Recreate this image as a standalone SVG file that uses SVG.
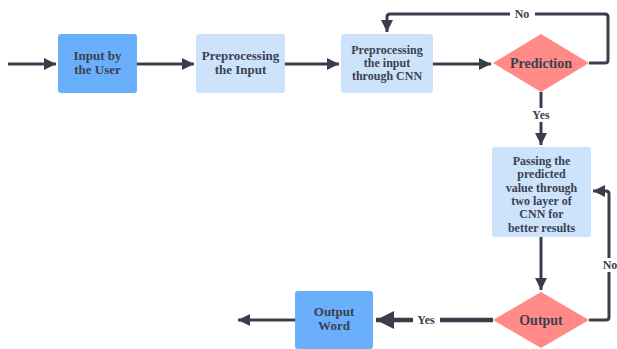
<svg xmlns="http://www.w3.org/2000/svg" width="617" height="349" viewBox="0 0 617 349">
<defs>
<marker id="ah" viewBox="0 0 10 10" refX="10" refY="5" markerWidth="4" markerHeight="4" markerUnits="strokeWidth" orient="auto">
<path d="M0,0 L10,5 L0,10 z" fill="#383e4b"/>
</marker>
<style>
.dark{fill:#6aaffc}
.light{fill:#cde3fc}
.dia{fill:#ff8a87}
.t{font-family:"Liberation Serif","Times New Roman",serif;font-weight:bold;font-size:13px;fill:#3b4150;text-anchor:middle}
.s{font-size:12px}
.c{fill:none;stroke:#383e4b;stroke-width:3;stroke-linejoin:round}
.lbl{font-family:"Liberation Serif","Times New Roman",serif;font-weight:bold;font-size:12px;fill:#3b4150;text-anchor:middle}
</style>
</defs>
<rect width="617" height="349" fill="#ffffff"/>
<g id="connectors">
<path class="c" d="M8,64 H56" marker-end="url(#ah)"/>
<path class="c" d="M137,64 H194" marker-end="url(#ah)"/>
<path class="c" d="M285,64 H339" marker-end="url(#ah)"/>
<path class="c" d="M433,64 H491" marker-end="url(#ah)"/>
<path class="c" d="M589,63 H605 Q608,63 608,60 V17 Q608,14 605,14 H390 Q387,14 387,17 V32" marker-end="url(#ah)"/>
<path class="c" d="M541,92 V145" marker-end="url(#ah)"/>
<path class="c" d="M541,237 V290" marker-end="url(#ah)"/>
<path class="c" d="M589,320 H606 Q609,320 609,317 V194 Q609,191 606,191 H593" marker-end="url(#ah)"/>
<path class="c" d="M493,320 H376" style="stroke-width:4.5" marker-end="url(#ah)"/>
<path class="c" d="M295,320 H238" marker-end="url(#ah)"/>
<rect x="510" y="7" width="25" height="13" fill="#ffffff"/>
<text class="lbl" x="522" y="18">No</text>
<rect x="527" y="108" width="28" height="14" fill="#ffffff"/>
<text class="lbl" x="541" y="119">Yes</text>
<rect x="598" y="258" width="22" height="14" fill="#ffffff"/>
<text class="lbl" x="610" y="269">No</text>
<rect x="413" y="313" width="27" height="14" fill="#ffffff"/>
<text class="lbl" x="426" y="324">Yes</text>
</g>
<g id="n1">
<rect class="dark" x="58" y="34" width="79" height="59" rx="3"/>
<text class="t" x="97.5" y="59.5">Input by</text>
<text class="t" x="97.5" y="73.5">the User</text>
</g>
<g id="n2">
<rect class="light" x="196" y="34" width="89" height="59" rx="3"/>
<text class="t" x="240.5" y="59.5">Preprocessing</text>
<text class="t" x="240.5" y="73.5">the Input</text>
</g>
<g id="n3">
<rect class="light" x="341" y="34" width="92" height="59" rx="3"/>
<text class="t s" x="387" y="54">Preprocessing</text>
<text class="t s" x="387" y="67">the input</text>
<text class="t s" x="387" y="80">through CNN</text>
</g>
<g id="n4">
<polygon class="dia" points="541,34 589,63 541,92 493,63"/>
<text class="t" x="541" y="67.5" style="font-size:14px">Prediction</text>
</g>
<g id="n5">
<rect class="light" x="492" y="147" width="99" height="90" rx="3"/>
<text class="t s" x="541.5" y="165">Passing the</text>
<text class="t s" x="541.5" y="178.3">predicted</text>
<text class="t s" x="541.5" y="191.6">value through</text>
<text class="t s" x="541.5" y="205">two layer of</text>
<text class="t s" x="541.5" y="218.3">CNN for</text>
<text class="t s" x="541.5" y="231.6">better results</text>
</g>
<g id="n6">
<polygon class="dia" points="541,292 589,320 541,348 493,320"/>
<text class="t" x="541" y="324.5" style="font-size:14px">Output</text>
</g>
<g id="n7">
<rect class="dark" x="295" y="291" width="78" height="58" rx="3"/>
<text class="t" x="334" y="316">Output</text>
<text class="t" x="334" y="330">Word</text>
</g>
</svg>
